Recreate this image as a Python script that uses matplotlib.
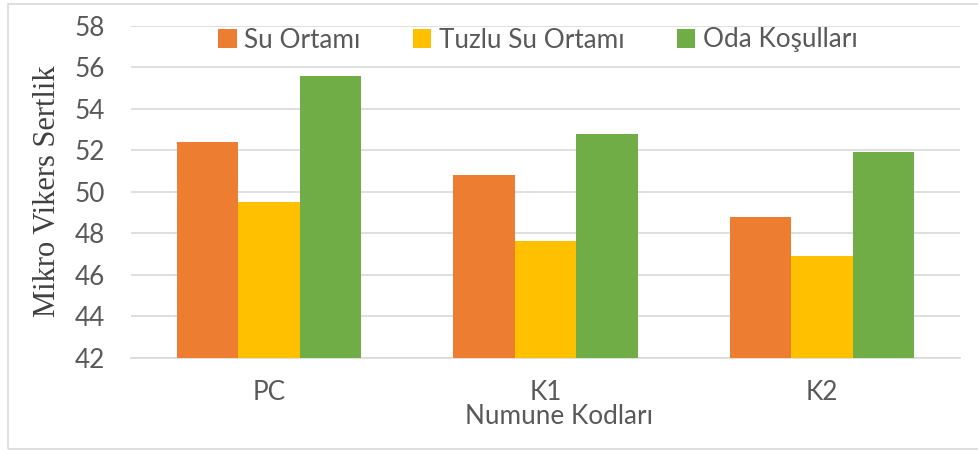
import numpy as np
import matplotlib.pyplot as plt
from matplotlib.patches import Rectangle

# Mikro Vikers sertlik degerleri
kodlar = ['PC', 'K1', 'K2']
seriler = ['Su Ortamı', 'Tuzlu Su Ortamı', 'Oda Koşulları']
su_ortami = [52.4, 50.8, 48.8]
tuzlu_su = [49.5, 47.6, 46.9]
oda = [55.6, 52.8, 51.9]
renkler = ['#ED7D31', '#FFC000', '#70AD47']
y_ticks = [42, 44, 46, 48, 50, 52, 54, 56, 58]

W, H = 979, 451
fs = 18.8
fig = plt.figure(figsize=(W / 100, H / 100), dpi=100)
ax = fig.add_axes([131 / W, 1 - 357.5 / H, (960 - 131) / W, (357.5 - 26) / H])

x = np.arange(len(kodlar))
bw = 2 / 9
for i, (vals, lab, c) in enumerate(zip([su_ortami, tuzlu_su, oda], seriler, renkler)):
    ax.bar(x + (i - 1) * bw, np.array(vals) - 42, bottom=42, width=bw,
           color=c, label=lab, zorder=3)

ax.set_xlim(-0.5, 2.5)
ax.set_ylim(42, 58)
ax.set_yticks(y_ticks)
ax.set_xticks(x)
ax.set_xticklabels(kodlar)
ax.grid(axis='y', color='#d9d9d9', linewidth=1.2, zorder=0)
for s in ['top', 'right', 'left']:
    ax.spines[s].set_visible(False)
ax.spines['bottom'].set_color('#d9d9d9')
ax.spines['bottom'].set_linewidth(1.2)
ax.tick_params(axis='y', length=0, pad=19, labelsize=fs, labelcolor='#595959')
ax.tick_params(axis='x', length=0, pad=16, labelsize=fs, labelcolor='#595959')
for t in ax.get_xticklabels() + ax.get_yticklabels():
    t.set_family('Lato')

fig.text(48 / W, 1 - 191.5 / H, 'Mikro Vikers Sertlik', rotation=90,
         ha='center', va='center', fontsize=22, family='Liberation Serif',
         color='#404040')
fig.text(559 / W, 1 - 417 / H, 'Numune Kodları', ha='center', va='center',
         fontsize=fs, family='Lato', color='#595959')

leg = ax.legend(loc='center', bbox_to_anchor=(538 / W, 1 - 40 / H),
                bbox_transform=fig.transFigure, ncol=3, frameon=False,
                prop={'family': 'Lato', 'size': fs},
                handlelength=0.7, handleheight=0.7, handletextpad=0.3,
                columnspacing=2.0, borderpad=0)
for t in leg.get_texts():
    t.set_color('#595959')

fig.patches.append(Rectangle((8 / W, 1 - 449 / H), 1.2, (449 - 3.5) / H,
                             transform=fig.transFigure, fill=False,
                             edgecolor='#d9d9d9', linewidth=1.2))

fig.savefig('out.png', dpi=100)
